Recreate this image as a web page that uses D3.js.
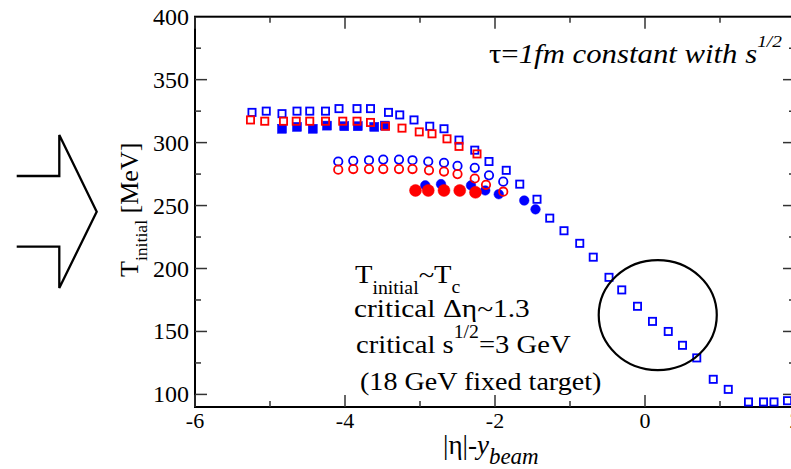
<!DOCTYPE html>
<html>
<head>
<meta charset="utf-8">
<script src="https://cdn.jsdelivr.net/npm/d3@7"></script>
<style>
  body { margin: 0; background: #fff; }
  svg { display: block; font-family: "Liberation Serif", "Times New Roman", serif; }
</style>
</head>
<body>
<div id="chart"></div>
<script>
// data
var blueOpenSqX = [-5.24,-5.05,-4.84,-4.64,-4.47,-4.26,-4.08,-3.84,-3.66,-3.42,-3.27,-3.08,-2.87,-2.68,-2.48,-2.27,-2.08,-1.85,-1.67,-1.44,-1.27,-1.08,-0.87,-0.69,-0.48,-0.31,-0.10,0.10,0.31,0.50,0.69,0.91,1.11,1.38,1.58,1.72,1.90];
var blueOpenSqY = [324,325,323,325,325,325,327,327,327,324,322,318,313,311,302,294,285,278,267,255,240,230,220,209,193,183,170,158,150,139,129,112,104,94,94,94,95];

var redOpenSqX = [-5.26,-5.07,-4.82,-4.65,-4.47,-4.26,-4.03,-3.84,-3.66,-3.46,-3.24,-3.01,-2.84,-2.64,-2.48,-2.24];
var redOpenSqY = [318,317,317,317,317,317,317,317,316,313,311.5,308.5,307,303,297,291];

var blueFilledSqX = [-4.84,-4.64,-4.43,-4.24,-4.01,-3.83,-3.61,-3.47];
var blueFilledSqY = [311,312.5,311,313.5,313,313,312.5,313.5];

var blueOpenCircX = [-4.09,-3.89,-3.68,-3.49,-3.28,-3.10,-2.89,-2.68,-2.50,-2.27,-2.08,-1.89];
var blueOpenCircY = [285,285.5,286,286.5,286.5,286,285,284,281.5,280,274,269];

var redOpenCircX = [-4.09,-3.89,-3.68,-3.49,-3.28,-3.10,-2.88,-2.68,-2.50,-2.27,-2.12,-1.89];
var redOpenCircY = [278.5,279,279,279,279,279,278,277,275,271.5,266.5,261];

var blueFilledCircX = [-2.93,-2.72,-2.32,-2.13,-1.95,-1.61,-1.46];
var blueFilledCircY = [266,267,266,262,259,254,247];

var redFilledCircX = [-3.06,-2.89,-2.68,-2.47,-2.26];
var redFilledCircY = [262,262,262,262,260.5];

var xMajor = [-6,-4,-2,0,2];
var xMinor = [-5,-3,-1,1];
var yMajor = [100,150,200,250,300,350,400];
var yMinor = [125,175,225,275,325,375];

// annotation ring around the steep part (data units)
var ringCx = 0.17, ringCy = 163, ringRx = 0.787, ringRy = 43.7;

var W = 791, H = 469;
var margin = {top: 16.7, left: 195, right: 795, bottom: 407};

var svg = d3.select("#chart").append("svg")
    .attr("width", W)
    .attr("height", H);

var x = d3.scaleLinear().domain([-6, 2]).range([margin.left, margin.right]);
var y = d3.scaleLinear().domain([90, 400]).range([margin.bottom, margin.top]);

function zip(xs, ys) { return xs.map(function(v, i) { return {x: v, y: ys[i]}; }); }

// text that is a bit wider than the font (the original was stretched)
function stext(px, py, size, sx, rot) {
  var tr = "translate(" + px + "," + py + ")" + (rot ? " rotate(" + rot + ")" : "") + " scale(" + sx + ",1)";
  return svg.append("text").attr("transform", tr).attr("font-size", size);
}

// frame
svg.append("rect")
    .attr("x", x(-6)).attr("y", y(400))
    .attr("width", x(2) - x(-6)).attr("height", y(90) - y(400))
    .attr("fill", "none").attr("stroke", "#000").attr("stroke-width", 2);

// ticks, all pointing inwards
function tickLines(vals, len, horiz) {
  vals.forEach(function(v) {
    if (horiz) {
      svg.append("line").attr("x1", x(v)).attr("x2", x(v)).attr("y1", y(90)).attr("y2", y(90) - len)
        .attr("stroke", "#333").attr("stroke-width", 1.5);
      svg.append("line").attr("x1", x(v)).attr("x2", x(v)).attr("y1", y(400)).attr("y2", y(400) + len)
        .attr("stroke", "#333").attr("stroke-width", 1.5);
    } else {
      svg.append("line").attr("y1", y(v)).attr("y2", y(v)).attr("x1", x(-6)).attr("x2", x(-6) + len)
        .attr("stroke", "#333").attr("stroke-width", 1.5);
      svg.append("line").attr("y1", y(v)).attr("y2", y(v)).attr("x1", x(2)).attr("x2", x(2) - len)
        .attr("stroke", "#333").attr("stroke-width", 1.5);
    }
  });
}
tickLines(xMajor, 12, true);
tickLines(xMinor, 6, true);
tickLines(yMajor.filter(function(v){ return v < 400; }), 12, false);
tickLines(yMinor, 6, false);

// tick labels
svg.selectAll(".ylab").data(yMajor).enter().append("text")
    .attr("x", x(-6) - 6).attr("y", function(d) { return y(d) + 8; })
    .attr("text-anchor", "end").attr("font-size", 24)
    .text(function(d) { return d; });

svg.selectAll(".xlab").data(xMajor).enter().append("text")
    .attr("x", function(d) { return x(d); }).attr("y", 428)
    .attr("text-anchor", "middle").attr("font-size", 22)
    .text(function(d) { return d; });

// axis titles
var yt = stext(138, 277, 25, 1.04, -90);
yt.append("tspan").text("T");
yt.append("tspan").attr("font-size", 17).attr("dy", 9).text("initial");
yt.append("tspan").attr("dy", -9).text(" [MeV]");

var xt = stext(443, 454, 27, 1.0);
xt.append("tspan").text("|η|-");
xt.append("tspan").attr("font-style", "italic").text("y");
xt.append("tspan").attr("font-style", "italic").attr("font-size", 23).attr("dy", 10).text("beam");

// markers: blue first, red on top
var plot = svg.append("g");

function squares(data, side, color, filled) {
  plot.selectAll(null).data(data).enter().append("rect")
      .attr("x", function(d) { return x(d.x) - side / 2; })
      .attr("y", function(d) { return y(d.y) - side / 2; })
      .attr("width", side).attr("height", side)
      .attr("fill", filled ? color : "none")
      .attr("stroke", color).attr("stroke-width", filled ? 0.5 : 1.8);
}
function circles(data, r, color, filled) {
  plot.selectAll(null).data(data).enter().append("circle")
      .attr("cx", function(d) { return x(d.x); })
      .attr("cy", function(d) { return y(d.y); })
      .attr("r", r)
      .attr("fill", filled ? color : "none")
      .attr("stroke", color).attr("stroke-width", filled ? 0.5 : 1.8);
}

squares(zip(blueFilledSqX, blueFilledSqY), 9, "#0000ff", true);
squares(zip(blueOpenSqX, blueOpenSqY), 7.2, "#0000ff", false);
circles(zip(blueOpenCircX, blueOpenCircY), 4.2, "#0000ff", false);
circles(zip(blueFilledCircX, blueFilledCircY), 4.8, "#0000ff", true);
squares(zip(redOpenSqX, redOpenSqY), 7.2, "#ff0000", false);
circles(zip(redOpenCircX, redOpenCircY), 4.2, "#ff0000", false);
circles(zip(redFilledCircX, redFilledCircY), 6, "#ff0000", true);

// ring annotation
svg.append("ellipse")
    .attr("cx", x(ringCx)).attr("cy", y(ringCy))
    .attr("rx", x(ringCx + ringRx) - x(ringCx))
    .attr("ry", y(ringCy - ringRy) - y(ringCy))
    .attr("fill", "none").attr("stroke", "#000").attr("stroke-width", 2.2);

// top-right note
var t1 = stext(489, 63, 27, 1.14);
t1.append("tspan").text("τ=");
t1.append("tspan").attr("font-style", "italic").text("1fm constant with s");
t1.append("tspan").attr("font-style", "italic").attr("font-size", 17).attr("dy", -16).text("1/2");

// text block
var l1 = stext(355, 283, 26, 1.1);
l1.append("tspan").text("T");
l1.append("tspan").attr("font-size", 18).attr("dy", 11).text("initial");
l1.append("tspan").attr("dy", -11).text("~T");
l1.append("tspan").attr("font-size", 18).attr("dy", 10).text("c");

stext(354, 317, 26, 1.13).text("critical Δη~1.3");

var l3 = stext(356, 353, 26, 1.1);
l3.append("tspan").text("critical s");
l3.append("tspan").attr("font-size", 18).attr("dy", -15).text("1/2");
l3.append("tspan").attr("dy", 15).text("=3 GeV");

stext(360, 390, 26, 1.08).text("(18 GeV fixed target)");

// big arrow on the left
var arrow = [[16.7,176],[59.3,176],[59.3,135],[96.7,211.7],[59.3,288],[59.3,246.7],[16.7,246.7]];
svg.append("path")
    .attr("d", d3.line()(arrow))
    .attr("fill", "none").attr("stroke", "#000").attr("stroke-width", 2.3)
    .attr("stroke-linejoin", "miter");
</script>
</body>
</html>
